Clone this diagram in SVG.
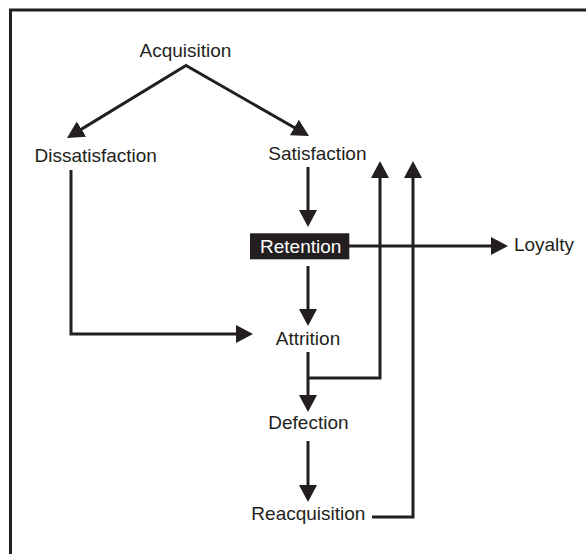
<svg xmlns="http://www.w3.org/2000/svg" width="586" height="554" viewBox="0 0 586 554">
  <style>
    .lbl { font-family: "Liberation Sans", Arial, sans-serif; font-size: 19px; fill: #231f20; text-anchor: middle; }
    .inv { fill: #ffffff; }
    .edge { fill: none; stroke: #231f20; stroke-width: 3; stroke-linejoin: miter; }
    .frame { fill: none; stroke: #231f20; stroke-width: 3; }
  </style>
  <defs>
    <marker id="arrow" viewBox="0 0 17 18" markerUnits="userSpaceOnUse" markerWidth="17" markerHeight="18" refX="11" refY="9" orient="auto-start-reverse">
      <path d="M0,0 L17,9 L0,18 z" fill="#231f20"/>
    </marker>
  </defs>

  <rect width="586" height="554" fill="#ffffff"/>
  <!-- outer frame, running off the right and bottom edges -->
  <rect class="frame" x="10.5" y="10" width="600" height="580"/>

  <g id="connectors">
    <!-- Acquisition splits into Dissatisfaction and Satisfaction -->
    <path class="edge" d="M72.1,134.9 L186,65.5 L303.8,133" marker-start="url(#arrow)" marker-end="url(#arrow)"/>
    <!-- Satisfaction to Retention -->
    <path class="edge" d="M308,167 V221" marker-end="url(#arrow)"/>
    <!-- Retention to Loyalty -->
    <path class="edge" d="M349,246 H502" marker-end="url(#arrow)"/>
    <!-- Retention to Attrition -->
    <path class="edge" d="M308,266 V320" marker-end="url(#arrow)"/>
    <!-- Dissatisfaction to Attrition -->
    <path class="edge" d="M71,170 V334 H247" marker-end="url(#arrow)"/>
    <!-- Attrition to Defection -->
    <path class="edge" d="M308,352 V406" marker-end="url(#arrow)"/>
    <!-- Attrition back to Satisfaction -->
    <path class="edge" d="M308,378 H380 V167" marker-end="url(#arrow)"/>
    <!-- Defection to Reacquisition -->
    <path class="edge" d="M308,441 V496" marker-end="url(#arrow)"/>
    <!-- Reacquisition back to Satisfaction -->
    <path class="edge" d="M372,517 H413 V167" marker-end="url(#arrow)"/>
  </g>

  <g id="acquisition"><text class="lbl" x="185.5" y="57">Acquisition</text></g>
  <g id="dissatisfaction"><text class="lbl" x="95.7" y="161.5">Dissatisfaction</text></g>
  <g id="satisfaction"><text class="lbl" x="317.4" y="159.5">Satisfaction</text></g>
  <g id="retention">
    <rect x="250" y="233.3" width="99.3" height="26" fill="#231f20"/>
    <text class="lbl inv" x="300.7" y="252.5">Retention</text>
  </g>
  <g id="loyalty"><text class="lbl" x="544" y="251">Loyalty</text></g>
  <g id="attrition"><text class="lbl" x="308" y="345">Attrition</text></g>
  <g id="defection"><text class="lbl" x="308.4" y="429">Defection</text></g>
  <g id="reacquisition"><text class="lbl" x="308.4" y="520">Reacquisition</text></g>
</svg>
